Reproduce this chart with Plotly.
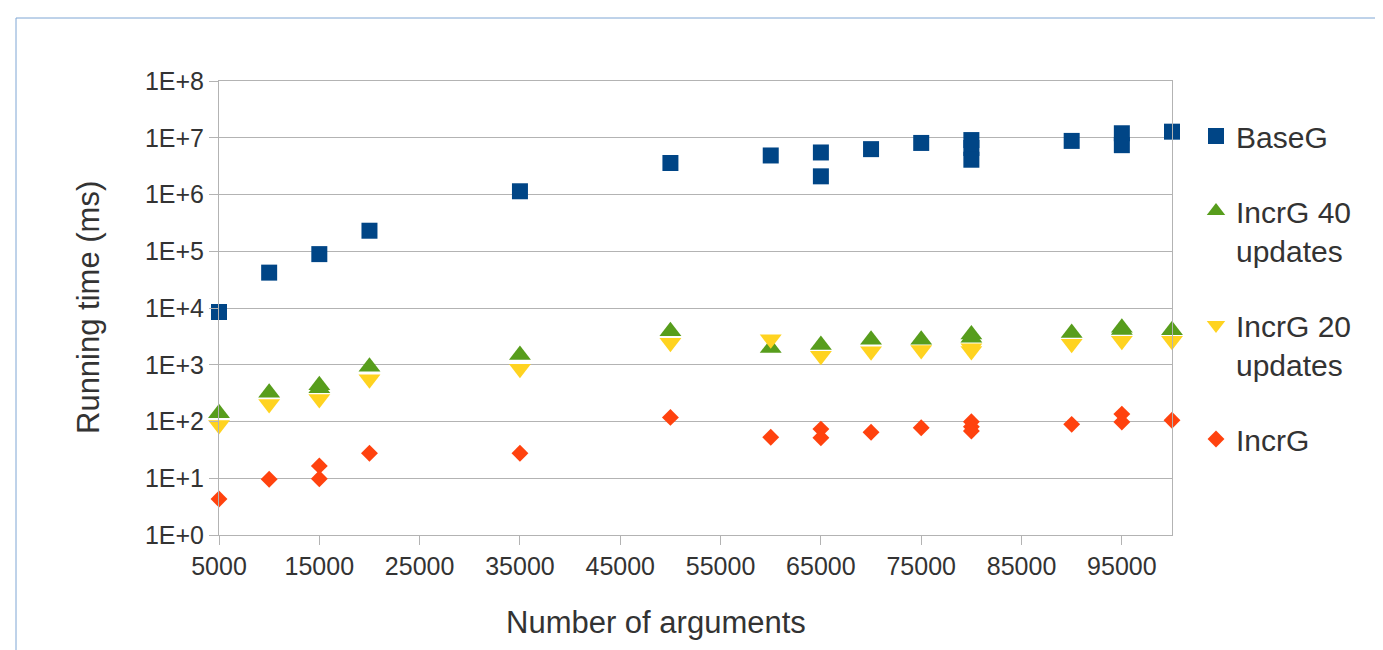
import plotly.graph_objects as go

# ---- data ----
base_x = [5000, 10000, 15000, 20000, 35000, 50000, 60000, 65000, 65000, 70000, 75000,
          80000, 80000, 80000, 90000, 95000, 95000, 100000]
base_y = [8500, 42000, 89000, 230000, 1140000, 3590000, 4870000, 5500000, 2090000, 6300000,
          8100000, 9100000, 6600000, 4100000, 8800000, 12000000, 7400000, 12800000]

inc40_x = [5000, 10000, 15000, 15000, 20000, 35000, 50000, 60000, 65000, 70000, 75000,
           80000, 80000, 90000, 95000, 95000, 100000]
inc40_y = [140, 320, 435, 385, 925, 1480, 3900, 1970, 2230, 2760, 2760,
           3400, 3000, 3630, 4500, 4100, 4060]

inc20_x = [5000, 10000, 15000, 20000, 35000, 50000, 60000, 65000, 70000, 75000,
           80000, 80000, 90000, 95000, 100000]
inc20_y = [87, 204, 250, 555, 850, 2450, 2800, 1440, 1730, 1820,
           1950, 1750, 2345, 2650, 2650]

incg_x = [5000, 10000, 15000, 15000, 20000, 35000, 50000, 60000, 65000, 65000, 70000,
          75000, 80000, 80000, 80000, 90000, 95000, 95000, 100000]
incg_y = [4.3, 9.6, 16.5, 9.8, 27.5, 27.5, 118, 52.7, 73.5, 51.6, 64.5,
          77.6, 99, 81, 68, 89, 135, 98, 105]

x_ticks = [5000, 15000, 25000, 35000, 45000, 55000, 65000, 75000, 85000, 95000]
y_ticks = [1, 10, 100, 1000, 10000, 100000, 1000000, 10000000, 100000000]
y_ticktext = ["1E+0", "1E+1", "1E+2", "1E+3", "1E+4", "1E+5", "1E+6", "1E+7", "1E+8"]

FONT = "Liberation Sans, Arial, sans-serif"
TXT = "#333333"
GRID = "#b3b3b3"

fig = go.Figure()
series = [
    ("BaseG", base_x, base_y, "square", 16, "#004586"),
    ("IncrG 40<br>updates", inc40_x, inc40_y, "triangle-up", 19, "#579d1c"),
    ("IncrG 20<br>updates", inc20_x, inc20_y, "triangle-down", 19, "#ffd320"),
    ("IncrG", incg_x, incg_y, "diamond", 13, "#ff420e"),
]
for name, xs, ys, sym, sz, col in series:
    fig.add_trace(go.Scatter(
        x=xs, y=ys, mode="markers", name=name, legendgroup=name,
        marker=dict(symbol=sym, size=sz, color=col, line=dict(width=0)),
        cliponaxis=False,
    ))

# page body has an 8px margin: work in screen coordinates and shift
OFF = 8
W, H = 1383, 650
SL, SR, ST, SB = 219, 1172, 81, 535  # plot area on screen
L, R, T, B = SL - OFF, W - (SR - OFF), ST - OFF, H - (SB - OFF)
pw, ph = W - L - R, H - T - B

def px(x):
    return (x - OFF - L) / pw

def py(y):
    return (H - B - (y - OFF)) / ph

fig.update_layout(
    width=W, height=H,
    margin=dict(l=L, r=R, t=T, b=B, autoexpand=False),
    paper_bgcolor="white", plot_bgcolor="white",
    font=dict(family=FONT, color=TXT, size=25),
    showlegend=True,
    legend=dict(
        x=px(1196), y=py(110), xanchor="left", yanchor="top",
        font=dict(size=30, color=TXT, family=FONT),
        tracegroupgap=33, itemsizing="trace", valign="top",
        bgcolor="rgba(0,0,0,0)",
    ),
    xaxis=dict(
        range=[5000, 100000], tickvals=x_ticks, ticktext=[str(v) for v in x_ticks],
        showgrid=False, zeroline=False,
        showline=True, linecolor=GRID, linewidth=1, mirror=True,
        ticks="outside", ticklen=9, tickcolor=GRID, tickwidth=1,
        tickfont=dict(size=25, color=TXT, family=FONT),
    ),
    yaxis=dict(
        type="log", range=[0, 8], tickvals=y_ticks, ticktext=y_ticktext,
        showgrid=True, gridcolor=GRID, gridwidth=1, zeroline=False,
        showline=True, linecolor=GRID, linewidth=1, mirror=True,
        ticks="outside", ticklen=9, tickcolor=GRID, tickwidth=1,
        tickfont=dict(size=25, color=TXT, family=FONT),
    ),
    annotations=[
        dict(text="Number of arguments", xref="paper", yref="paper",
             x=px(656), y=py(622), xanchor="center", yanchor="middle",
             showarrow=False, font=dict(size=31, color=TXT, family=FONT)),
        dict(text="Running time (ms)", xref="paper", yref="paper",
             x=px(88), y=py(308), xanchor="center", yanchor="middle", textangle=-90,
             showarrow=False, font=dict(size=31, color=TXT, family=FONT)),
    ],
    shapes=[
        dict(type="rect", xref="paper", yref="paper",
             x0=px(16), x1=px(1420), y0=py(700), y1=py(18),
             line=dict(color="#7fa6d4", width=1), fillcolor="rgba(0,0,0,0)", layer="below"),
    ],
)

fig.write_html("out.html")
